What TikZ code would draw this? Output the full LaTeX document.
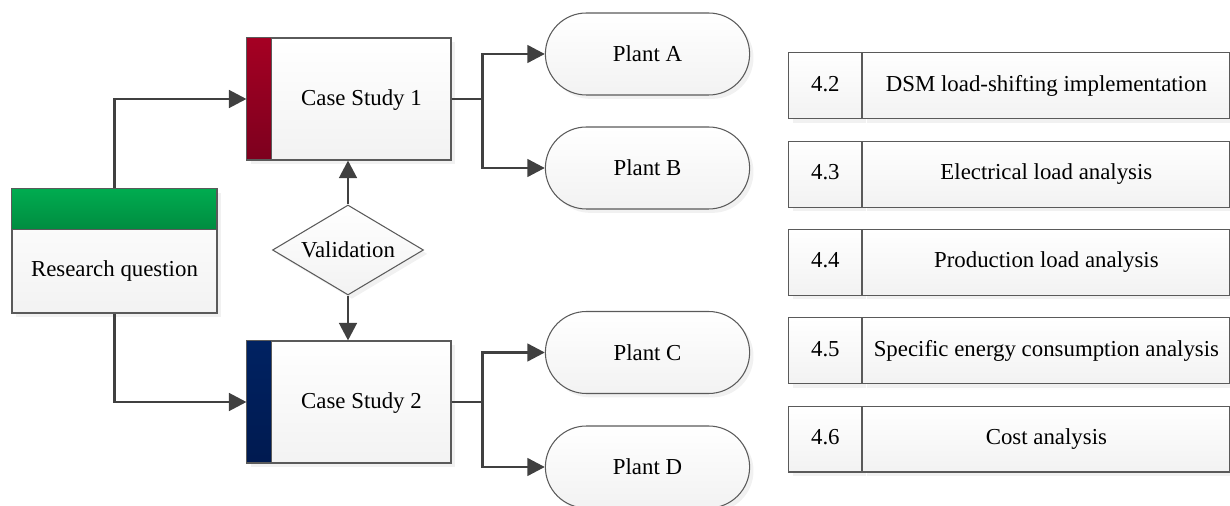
\documentclass[tikz,border=0pt]{standalone}
\usepackage{fontspec}
\setmainfont{Liberation Serif}
\usepackage{tikz}
\usepackage{xcolor}
\usetikzlibrary{matrix,shapes.geometric,shapes.misc,shadows,arrows.meta}

\definecolor{arrowgray}{RGB}{64,64,64}
\definecolor{linegray}{RGB}{90,90,90}
\definecolor{headgreen}{RGB}{0,172,80}
\definecolor{headgreendark}{RGB}{0,140,64}
\definecolor{barred}{RGB}{165,0,35}
\definecolor{barreddark}{RGB}{125,0,30}
\definecolor{barblue}{RGB}{0,34,98}
\definecolor{barbluedark}{RGB}{0,26,80}

\tikzset{
  box/.style={draw=linegray, line width=0.6pt, top color=white, bottom color=gray!10,
              drop shadow={shadow xshift=2.2pt, shadow yshift=-2.2pt, fill=gray!22}},
  casebox/.style={box, minimum width=4.08cm, minimum height=2.44cm},
  plant/.style={box, rounded rectangle, minimum width=4.32cm, minimum height=1.64cm},
  flow/.style={draw=arrowgray, line width=1.7pt, -{Triangle[length=10pt,width=10pt]}},
}

\begin{document}
\begin{tikzpicture}[x=0.02cm, y=-0.02cm, font=\fontsize{13}{15}\selectfont]
            \useasboundingbox (0,0) rectangle (1230,506);

            \node[box, minimum width=4.1cm, minimum height=2.48cm] (rq) at (114.5,251) {};
            \shadedraw[top color=headgreen, bottom color=headgreendark, draw=linegray, line width=0.6pt]
                (rq.north west) rectangle ++(205,41);
            \node (rqtext) at (114.5,271.5) {Research question};

            \node[casebox] (cs1) at (349,99) {};
            \shadedraw[top color=barred, bottom color=barreddark, draw=linegray, line width=0.6pt]
                (cs1.north west) rectangle ++(25,122);
            \node (cs1text) at (361.5,100) {Case Study 1};

            \node[casebox] (cs2) at (349,402) {};
            \shadedraw[top color=barblue, bottom color=barbluedark, draw=linegray, line width=0.6pt]
                (cs2.north west) rectangle ++(25,122);
            \node (cs2text) at (361.5,403) {Case Study 2};

            \node[box, diamond, aspect=1.68, inner sep=0pt, minimum width=3.02cm, minimum height=1.8cm]
                (val) at (348,250) {Validation};

            \node[plant] (pa) at (647.5,54) {Plant A};
            \node[plant] (pb) at (647.5,168) {Plant B};
            \node[plant] (pc) at (647.5,352.5) {Plant C};
            \node[plant] (pd) at (647.5,467) {Plant D};

            \matrix[matrix of nodes,
                    inner sep=0pt,
                    nodes={box, minimum height=1.32cm, inner sep=1pt, text height=9pt, text depth=3pt, anchor=center},
                    column 1/.style={nodes={minimum width=1.46cm}},
                    column 2/.style={nodes={minimum width=7.34cm}},
                    column sep=0pt, row sep=0.425cm,
                    anchor=north west] (sec) at (788,52) {
            4.2 & DSM load-shifting implementation \\
            4.3 & Electrical load analysis \\
            4.4 & Production load analysis \\
            4.5 & Specific energy consumption analysis \\
            4.6 & Cost analysis \\
            };

            \draw[flow] (rq.north) |- (cs1.west);
            \draw[flow] (rq.south) |- (cs2.west);
            \draw[flow] (val.north) -- (val.north |- cs1.south);
            \draw[flow] (val.south) -- (val.south |- cs2.north);
            \draw[flow] (cs1.east) -- ++(31,0) |- (pa.west);
            \draw[flow] (cs1.east) -- ++(31,0) |- (pb.west);
            \draw[flow] (cs2.east) -- ++(31,0) |- (pc.west);
            \draw[flow] (cs2.east) -- ++(31,0) |- (pd.west);
        \end{tikzpicture}
\end{document}
